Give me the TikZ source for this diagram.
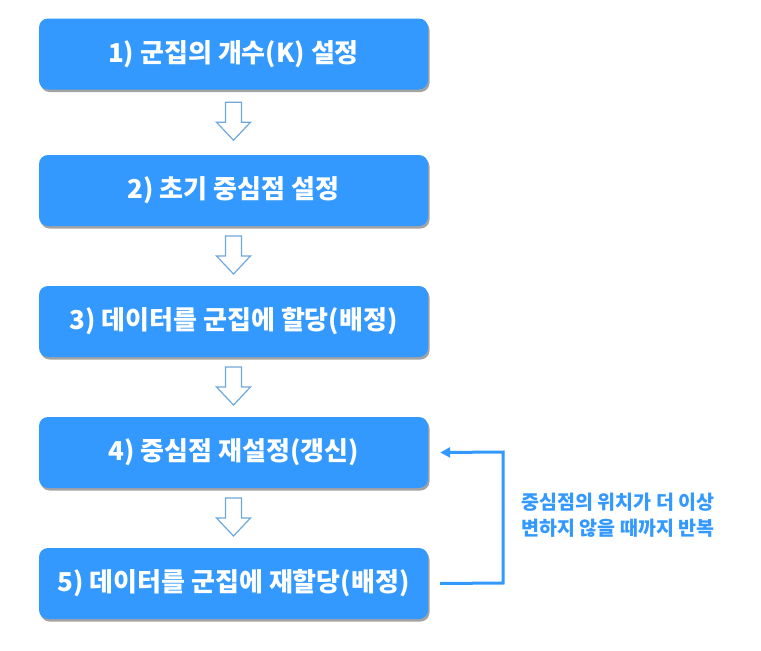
\documentclass[tikz,border=0pt]{standalone}
\usepackage{fontspec}
\setmainfont{Noto Sans CJK KR}
\usetikzlibrary{shadows,arrows.meta}
\definecolor{boxblue}{HTML}{3399FF}
\definecolor{hollow}{HTML}{6FA8DC}
\begin{document}
\begin{tikzpicture}[x=1pt,y=-1pt,
  stepbox/.style={draw=none,fill=boxblue,rounded corners=9pt,minimum width=389pt,minimum height=71pt,
    text=white,font=\fontsize{26}{30}\selectfont\bfseries,
    drop shadow={shadow xshift=1.5pt,shadow yshift=-2.5pt,opacity=0.45,fill=black!80}},
  hollowarrow/.style={draw=hollow,line width=1.2pt,fill=white,line join=miter},
  loopline/.style={draw=boxblue,line width=3pt,-{Triangle[length=10pt,width=10pt]}}]
\useasboundingbox (0,0) rectangle (761,651);
\node[stepbox] (b1) at (233.5,54) {1) 군집의 개수(K) 설정};
\node[stepbox] (b2) at (233.5,190.5) {2) 초기 중심점 설정};
\node[stepbox] (b3) at (233.5,321.5) {3) 데이터를 군집에 할당(배정)};
\node[stepbox] (b4) at (233.5,452.5) {4) 중심점 재설정(갱신)};
\node[stepbox] (b5) at (233.5,583.5) {5) 데이터를 군집에 재할당(배정)};
\foreach \a/\b in {b1/b2,b2/b3,b3/b4,b4/b5}{
  \path (\a.south) -- (\b.north) coordinate[pos=0.5] (m\a);
  \draw[hollowarrow] ([shift={(-8,-20)}]m\a) -- ([shift={(8,-20)}]m\a) -- ([shift={(8,0)}]m\a)
    -- ([shift={(17,0)}]m\a) -- ([shift={(0,18)}]m\a) -- ([shift={(-17,0)}]m\a) -- ([shift={(-8,0)}]m\a) -- cycle;
}
\coordinate (turnA) at (503,583);
\coordinate (turnB) at (503,452);
\draw[loopline] ([xshift=12pt]b5.east) -- (turnA) -- (turnB) -- ([xshift=12pt]b4.east);
\node[text=boxblue,font=\fontsize{19.5}{26}\selectfont\bfseries,align=left,anchor=west] (lbl) at (518,515)
  {중심점의 위치가 더 이상\\변하지 않을 때까지 반복};
\end{tikzpicture}
\end{document}
